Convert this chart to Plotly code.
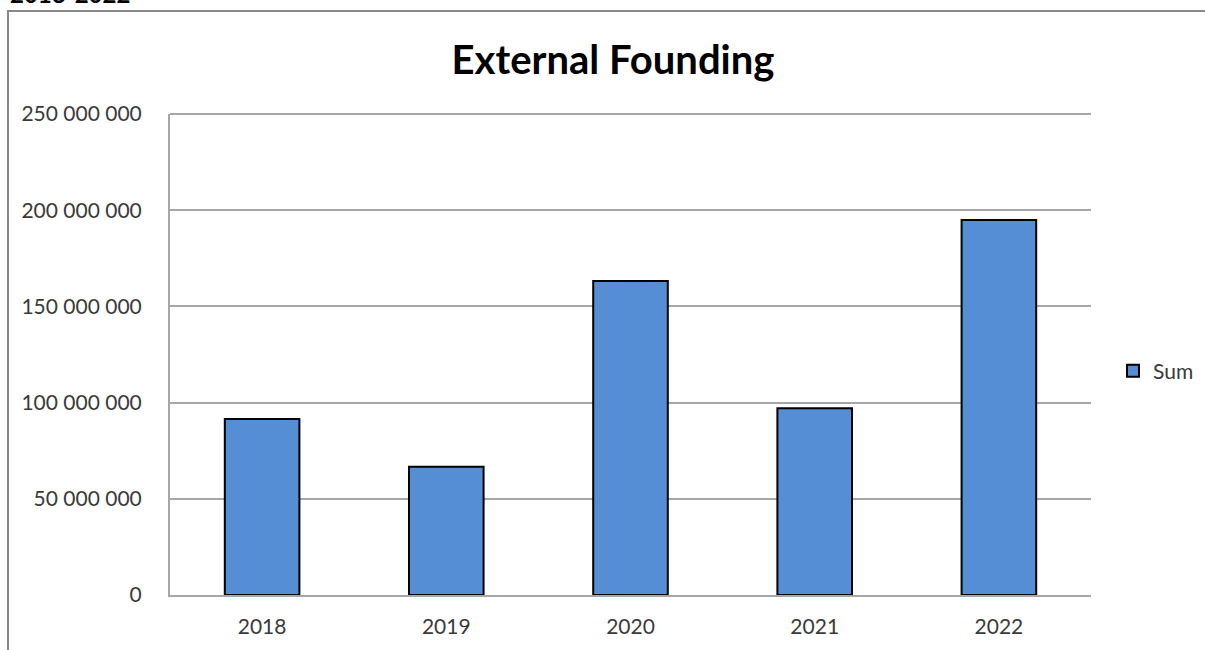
import plotly.graph_objects as go

years = ["2018", "2019", "2020", "2021", "2022"]
sums = [91_500_000, 66_700_000, 163_200_000, 97_000_000, 194_900_000]
y_ticks = [0, 50_000_000, 100_000_000, 150_000_000, 200_000_000, 250_000_000]

W, H = 1205, 650
L, R, T, B = 170, W - 1091, 114, H - 595
pw, ph = W - L - R, H - T - B

def px(x):
    return (x - L) / pw

def py(y):
    return (H - B - y) / ph

font = "Lato, 'Open Sans', sans-serif"

fig = go.Figure()
fig.add_trace(go.Bar(
    x=years, y=sums, name="Sum",
    marker=dict(color="#558ED5", line=dict(color="#000000", width=2)),
    width=0.405,
))

fig.update_layout(
    width=W, height=H,
    margin=dict(l=L, r=R, t=T, b=B, autoexpand=False),
    paper_bgcolor="white", plot_bgcolor="white",
    separators=", ",
    font=dict(family=font, size=21, color="#3A3A3A"),
    title=dict(text="<b>External Founding</b>", x=px(613), xref="paper", xanchor="center",
               y=1 - 60 / H, yanchor="middle", font=dict(size=40, color="#000000", family=font)),
    showlegend=True,
    legend=dict(x=px(1113), y=py(371), xanchor="left", yanchor="middle",
                font=dict(size=21, color="#3A3A3A"), bgcolor="rgba(0,0,0,0)",
                itemwidth=30),
    xaxis=dict(type="category", range=[-0.5, 4.5], showgrid=False, showline=True,
               linecolor="#A6A6A6", linewidth=2, ticks="", ticklabelstandoff=12,
               tickfont=dict(size=21, color="#3A3A3A")),
    yaxis=dict(range=[0, 250_000_000], tickvals=y_ticks, tickformat=",d",
               showgrid=True, gridcolor="#A6A6A6", gridwidth=2, zeroline=False,
               showline=True, linecolor="#A6A6A6", linewidth=2, ticks="",
               ticklabelstandoff=22, tickfont=dict(size=21, color="#3A3A3A")),
    shapes=[
        dict(type="line", xref="paper", yref="paper", x0=px(L), x1=px(L + pw), y0=1, y1=1,
             line=dict(color="#A6A6A6", width=2), layer="below"),
        dict(type="rect", xref="paper", yref="paper", x0=px(8), x1=px(W + 20),
             y0=py(11), y1=py(H + 20), line=dict(color="#888888", width=2),
             fillcolor="rgba(0,0,0,0)", layer="below"),
    ],
    annotations=[
        dict(text="<b>2018-2022</b>", xref="paper", yref="paper", x=px(8), y=py(10),
             xanchor="left", yanchor="bottom", showarrow=False,
             font=dict(size=24, color="#000000", family=font)),
    ],
)

fig.write_html("out.html")
